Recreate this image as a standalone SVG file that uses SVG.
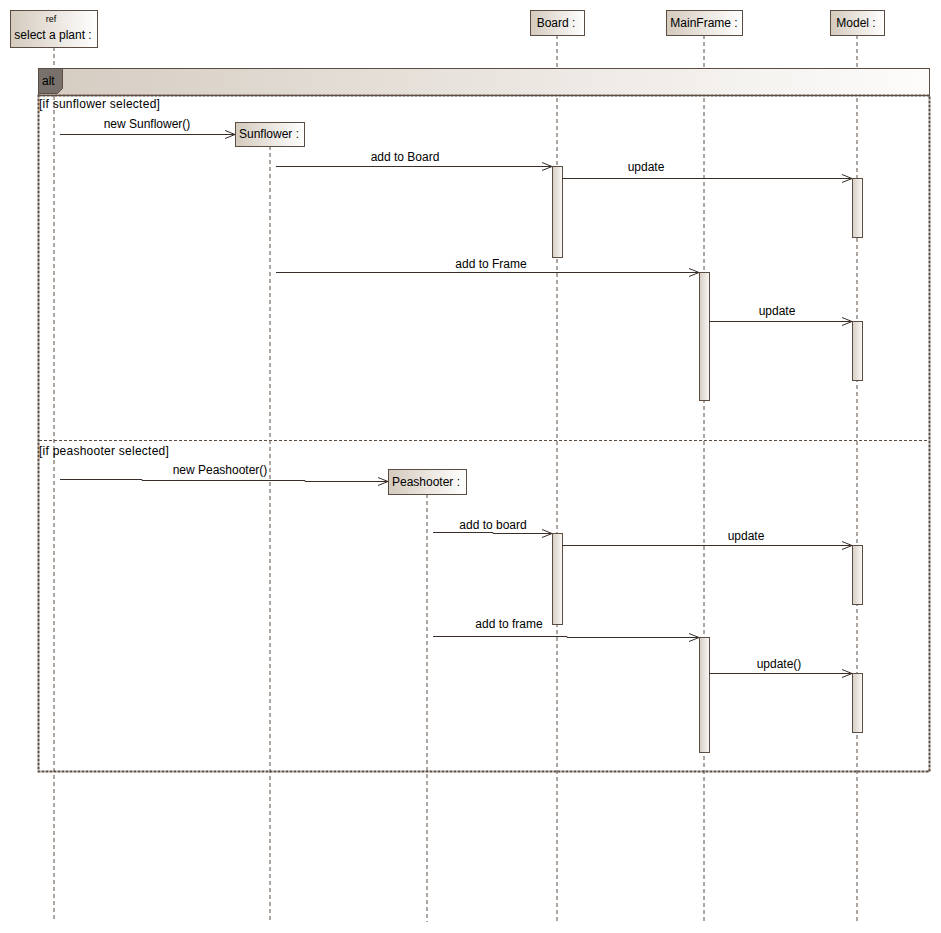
<svg xmlns="http://www.w3.org/2000/svg" width="941" height="933" viewBox="0 0 941 933">
<defs>
<linearGradient id="g" x1="0" y1="0" x2="1" y2="0"><stop offset="0" stop-color="#d4cabd"/><stop offset="1" stop-color="#ffffff"/></linearGradient>
<linearGradient id="ga" x1="0" y1="0" x2="1" y2="0"><stop offset="0" stop-color="#d6cec4"/><stop offset="1" stop-color="#faf8f6"/></linearGradient>
<linearGradient id="gh" x1="0" y1="0" x2="1" y2="0"><stop offset="0" stop-color="#d5ccc1"/><stop offset="1" stop-color="#fdfcfb"/></linearGradient>
<marker id="arr" markerWidth="12" markerHeight="10" refX="11" refY="5" orient="auto" markerUnits="userSpaceOnUse"><path d="M1,1 L11,5 L1,9" fill="none" stroke="#3a2e28" stroke-width="1"/></marker>
</defs>
<style>
text{font-family:"Liberation Sans",Arial,sans-serif;font-size:12px;fill:#000}
.box{fill:url(#g);stroke:#5c4d43;stroke-width:1}
.life{stroke:#5c4d43;stroke-width:1;stroke-dasharray:4,3;fill:none}
.act{fill:url(#ga);stroke:#5c4d43;stroke-width:1}
.msg{stroke:#3a2e28;stroke-width:1;fill:none;marker-end:url(#arr)}
.c{text-anchor:middle}
.guard{font-size:12px;letter-spacing:0.25px}
</style>
<rect width="941" height="933" fill="#fff"/>
<g id="lifelines">
<line class="life" x1="54" y1="47" x2="54" y2="922"/>
<line class="life" x1="270" y1="146" x2="270" y2="922"/>
<line class="life" x1="427" y1="494" x2="427" y2="922"/>
<line class="life" x1="557" y1="35" x2="557" y2="922"/>
<line class="life" x1="704" y1="35" x2="704" y2="922"/>
<line class="life" x1="857" y1="35" x2="857" y2="922"/>
</g>
<g id="alt-frame">
<rect x="38.5" y="68.5" width="891" height="27" fill="url(#gh)" stroke="#5c4d43"/>
<rect x="38.5" y="95.5" width="891" height="676" fill="none" stroke="#5c4d43" stroke-dasharray="3,1" stroke-width="2"/>
<path d="M38.5,68.5 H62.5 V88.5 L57.5,93.5 H38.5 Z" fill="#78706a" stroke="#5c4d43"/>
<text x="42" y="85">alt</text>
<line x1="39" y1="440.5" x2="929" y2="440.5" stroke="#5c4d43" stroke-dasharray="3,2"/>
<text class="guard" x="39" y="108">[if sunflower selected]</text>
<text class="guard" x="39" y="455">[if peashooter selected]</text>
</g>
<g id="node-select">
<rect class="box" x="10.5" y="10.5" width="87" height="37"/>
<text class="c" x="51" y="22" style="font-size:9px">ref</text>
<text class="c" x="53" y="39">select a plant :</text>
</g>
<g id="node-board">
<rect class="box" x="530.5" y="10.5" width="54" height="25"/>
<text class="c" x="556" y="27">Board :</text>
</g>
<g id="node-mainframe">
<rect class="box" x="666.5" y="10.5" width="76" height="25"/>
<text class="c" x="704" y="27">MainFrame :</text>
</g>
<g id="node-model">
<rect class="box" x="830.5" y="10.5" width="54" height="25"/>
<text class="c" x="856" y="27">Model :</text>
</g>
<g id="node-sunflower">
<rect class="box" x="235.5" y="122.5" width="69" height="24"/>
<text class="c" x="269" y="138">Sunflower :</text>
</g>
<g id="node-peashooter">
<rect class="box" x="388.5" y="469.5" width="78" height="25"/>
<text class="c" x="426" y="486">Peashooter :</text>
</g>
<g id="activations">
<rect class="act" x="552.5" y="166.5" width="10" height="91"/>
<rect class="act" x="852.5" y="178.5" width="10" height="59"/>
<rect class="act" x="699.5" y="272.5" width="10" height="128"/>
<rect class="act" x="852.5" y="321.5" width="10" height="59"/>
<rect class="act" x="552.5" y="533.5" width="10" height="91"/>
<rect class="act" x="852.5" y="545.5" width="10" height="59"/>
<rect class="act" x="699.5" y="637.5" width="10" height="115"/>
<rect class="act" x="852.5" y="673.5" width="10" height="59"/>
</g>
<g id="connectors">
<line class="msg" x1="60" y1="134.5" x2="235" y2="134.5"/>
<text class="c" x="147" y="128">new Sunflower()</text>
<line class="msg" x1="276" y1="166.5" x2="552" y2="166.5"/>
<text class="c" x="405" y="161">add to Board</text>
<line class="msg" x1="562" y1="178.5" x2="852" y2="178.5"/>
<text class="c" x="646" y="171">update</text>
<line class="msg" x1="276" y1="272.5" x2="699" y2="272.5"/>
<text class="c" x="491" y="268">add to Frame</text>
<line class="msg" x1="709" y1="321.5" x2="852" y2="321.5"/>
<text class="c" x="777" y="315">update</text>
<polyline class="msg" points="60,479.5 142,479.5 142,480.5 305,480.5 305,481.5 388,481.5"/>
<text class="c" x="220" y="474">new Peashooter()</text>
<polyline class="msg" points="433,532.5 493,532.5 493,533.5 552,533.5"/>
<text class="c" x="493" y="529">add to board</text>
<line class="msg" x1="562" y1="545.5" x2="852" y2="545.5"/>
<text class="c" x="746" y="540">update</text>
<polyline class="msg" points="433,636.5 567,636.5 567,637.5 699,637.5"/>
<text class="c" x="509" y="628">add to frame</text>
<line class="msg" x1="709" y1="673.5" x2="852" y2="673.5"/>
<text class="c" x="779" y="668">update()</text>
</g>
</svg>
